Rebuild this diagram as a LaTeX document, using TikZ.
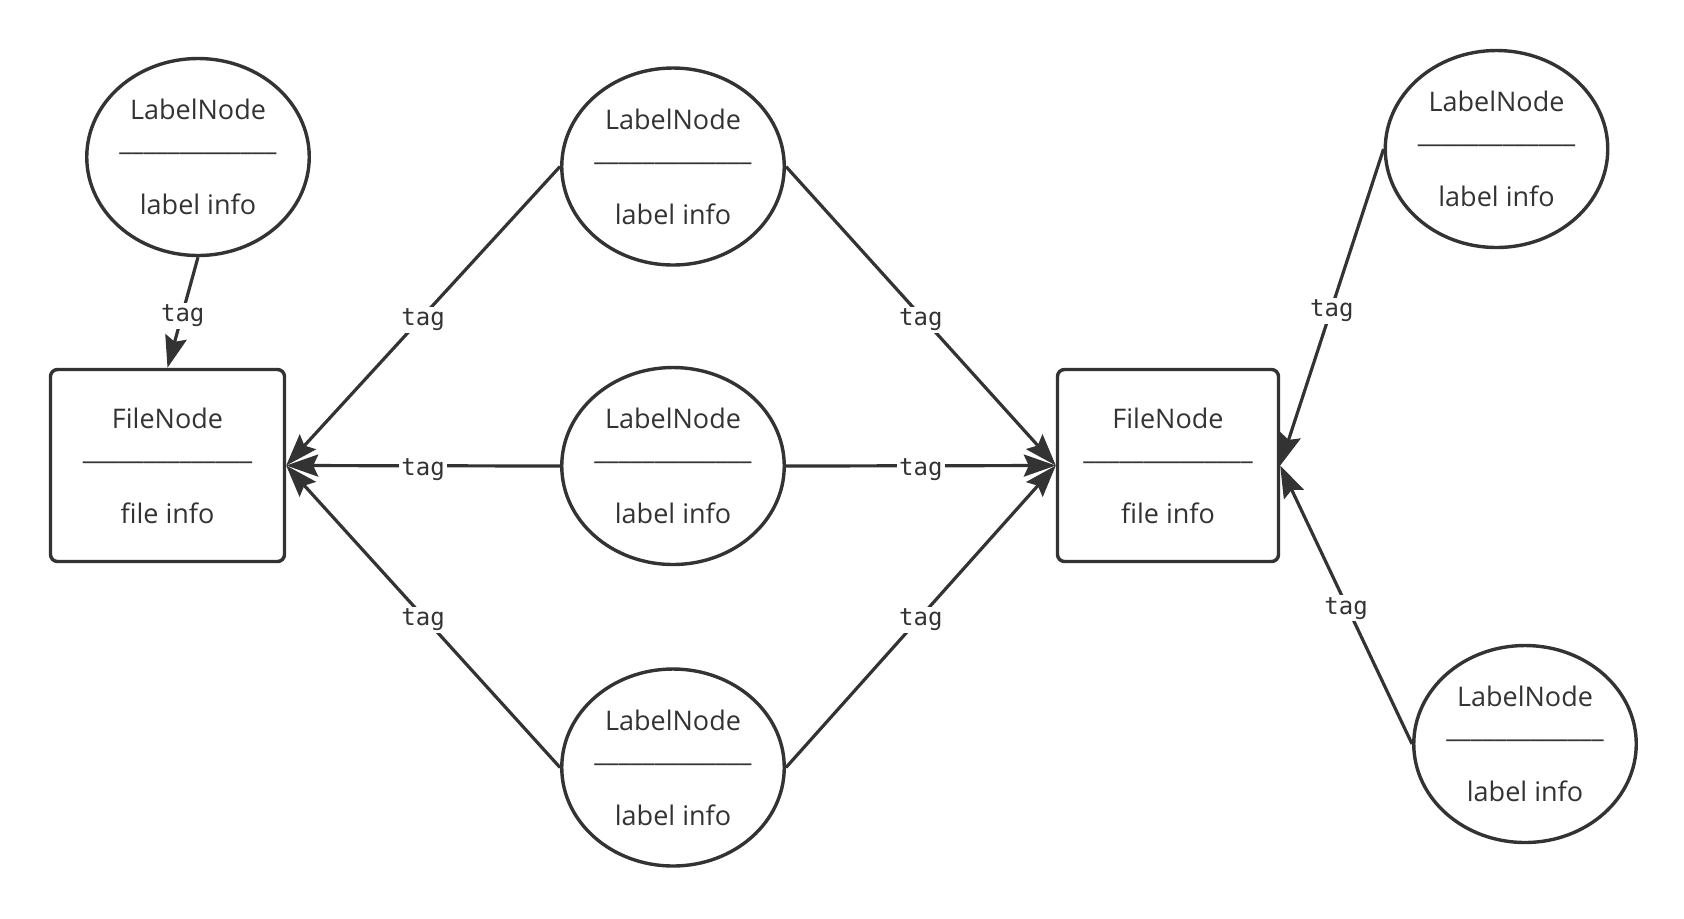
\documentclass[tikz,border=0pt]{standalone}
\usepackage{fontspec}
\setmainfont{Open Sans}
\newfontfamily\tagfont{DejaVu Sans Mono}
\usetikzlibrary{arrows.meta,shapes.geometric}
\definecolor{ink}{HTML}{333333}
\begin{document}
\begin{tikzpicture}[x=0.5pt,y=-0.5pt,
  every node/.style={text=ink},
  nodetext/.style={align=center,font=\fontsize{13.5}{15.5}\selectfont},
  labelnode/.style={nodetext,ellipse,draw=ink,line width=1.7pt,minimum width=108.5pt,minimum height=98.5pt,inner sep=0pt},
  filenode/.style={nodetext,rectangle,rounded corners=3.5pt,draw=ink,line width=1.7pt,minimum height=96pt,inner sep=0pt},
  conn/.style={draw=ink,line width=1.6pt,-{Stealth[length=16pt,width=11pt,inset=2.5pt]}},
  tagl/.style={midway,fill=white,inner sep=1pt,yshift=-1.8pt,font=\tagfont\fontsize{12}{14}\selectfont}
]
\useasboundingbox (0,0) rectangle (1684,918);

\node[labelnode] (e1) at (198,157) {LabelNode\\\_\_\_\_\_\_\_\_\_\_\_\_\_\\[16.5pt]label info};
\node[labelnode] (m1) at (673,166.5) {LabelNode\\\_\_\_\_\_\_\_\_\_\_\_\_\_\\[16.5pt]label info};
\node[labelnode] (m2) at (673,466) {LabelNode\\\_\_\_\_\_\_\_\_\_\_\_\_\_\\[16.5pt]label info};
\node[labelnode] (m3) at (673,767.5) {LabelNode\\\_\_\_\_\_\_\_\_\_\_\_\_\_\\[16.5pt]label info};
\node[labelnode] (e2) at (1496.5,149) {LabelNode\\\_\_\_\_\_\_\_\_\_\_\_\_\_\\[16.5pt]label info};
\node[labelnode] (e3) at (1525,744) {LabelNode\\\_\_\_\_\_\_\_\_\_\_\_\_\_\\[16.5pt]label info};

\node[filenode,minimum width=117pt] (b1) at (167.5,465.5) {FileNode\\\_\_\_\_\_\_\_\_\_\_\_\_\_\_\\[16.5pt]file info};
\node[filenode,minimum width=110.5pt] (b2) at (1168,465.5) {FileNode\\\_\_\_\_\_\_\_\_\_\_\_\_\_\_\\[16.5pt]file info};

\draw[conn] (e1.south) -- node[tagl]{tag} (b1.north);
\draw[conn] (m1.west) -- node[tagl]{tag} (b1.east);
\draw[conn] (m2.west) -- node[tagl]{tag} (b1.east);
\draw[conn] (m3.west) -- node[tagl]{tag} (b1.east);
\draw[conn] (m1.east) -- node[tagl]{tag} (b2.west);
\draw[conn] (m2.east) -- node[tagl]{tag} (b2.west);
\draw[conn] (m3.east) -- node[tagl]{tag} (b2.west);
\draw[conn] (e2.west) -- node[tagl]{tag} (b2.east);
\draw[conn] (e3.west) -- node[tagl]{tag} (b2.east);
\end{tikzpicture}
\end{document}
